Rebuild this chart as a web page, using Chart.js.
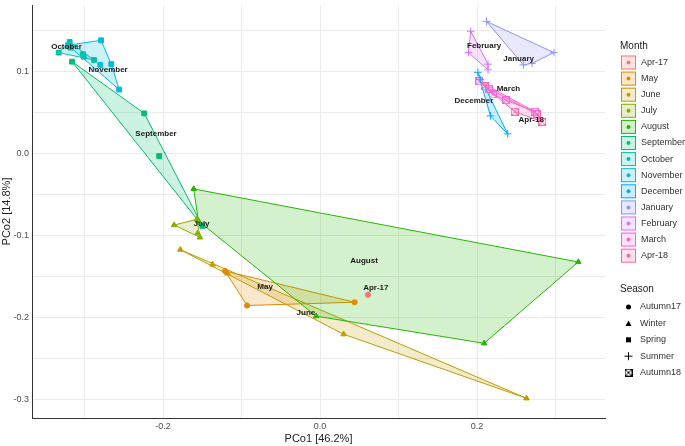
<!DOCTYPE html>
<html>
<head>
<meta charset="UTF-8">
<title>PCoA by month</title>
<script src="https://cdn.jsdelivr.net/npm/chart.js"></script>
<style>
  html, body { margin: 0; padding: 0; background: #fff; }
  #wrap { position: relative; width: 685px; height: 446px; }
</style>
</head>
<body>
<div id="wrap"><canvas id="pcoa-chart" width="685" height="446"></canvas></div>
<script>
// months, in legend order
const months = ['Apr-17', 'May', 'June', 'July', 'August', 'September', 'October',
                'November', 'December', 'January', 'February', 'March', 'Apr-18'];
const monthColors = ['#F8766D', '#E18A00', '#BE9C00', '#8CAB00', '#24B700', '#00BE70', '#00C1AB',
                     '#00BBDA', '#00ACFC', '#8B93FF', '#D575FE', '#F962DD', '#FF65AC'];
const seasons = ['Autumn17', 'Winter', 'Spring', 'Summer', 'Autumn18'];
const monthSeason = [0, 0, 1, 1, 1, 2, 2, 2, 3, 3, 3, 4, 4];

// PCo1 / PCo2 scores, one list per month
const pco1 = [
  [0.061],
  [-0.121, -0.093, 0.044],
  [-0.178, -0.137, -0.118, 0.030, 0.263],
  [-0.186, -0.157, -0.156, -0.153],
  [-0.161, -0.155, -0.005, 0.209, 0.329],
  [-0.316, -0.224, -0.205, -0.150],
  [-0.333, -0.319, -0.318, -0.302, -0.288],
  [-0.321, -0.279, -0.266, -0.256, -0.280, -0.301],
  [0.201, 0.204, 0.217, 0.239],
  [0.212, 0.298, 0.259, 0.270],
  [0.192, 0.189, 0.214, 0.214],
  [0.203, 0.215, 0.220, 0.237, 0.274],
  [0.210, 0.248, 0.276, 0.283]
];
const pco2 = [
  [-0.172],
  [-0.143, -0.185, -0.181],
  [-0.117, -0.135, -0.146, -0.220, -0.298],
  [-0.087, -0.080, -0.097, -0.102],
  [-0.043, -0.082, -0.198, -0.231, -0.132],
  [0.112, 0.049, -0.003, -0.088],
  [0.123, 0.136, 0.129, 0.121, 0.114],
  [0.132, 0.138, 0.109, 0.078, 0.108, 0.118],
  [0.099, 0.090, 0.046, 0.024],
  [0.161, 0.123, 0.108, 0.110],
  [0.149, 0.123, 0.109, 0.102],
  [0.088, 0.079, 0.072, 0.065, 0.051],
  [0.082, 0.051, 0.048, 0.039]
];

// where each month name is written
const labelX = [0.071, -0.070, -0.018, -0.151, 0.056, -0.209, -0.323, -0.270, 0.196, 0.253, 0.209, 0.240, 0.269];
const labelY = [-0.164, -0.162, -0.194, -0.085, -0.130, 0.024, 0.130, 0.102, 0.064, 0.115, 0.131, 0.0785, 0.0415];

function withAlpha(hex, a) {
  const n = parseInt(hex.slice(1), 16);
  return `rgba(${(n >> 16) & 255}, ${(n >> 8) & 255}, ${n & 255}, ${a})`;
}

// square with an X inside (R shape 7)
function boxCross(color) {
  const c = document.createElement('canvas');
  c.width = 8; c.height = 8;
  const g = c.getContext('2d');
  g.strokeStyle = color;
  g.lineWidth = 1;
  g.strokeRect(0.5, 0.5, 7, 7);
  g.beginPath();
  g.moveTo(0.5, 0.5); g.lineTo(7.5, 7.5);
  g.moveTo(7.5, 0.5); g.lineTo(0.5, 7.5);
  g.stroke();
  return c;
}

function seasonStyle(s, color) {
  if (s === 0) return { pointStyle: 'circle', radius: 2.6 };
  if (s === 1) return { pointStyle: 'triangle', radius: 3.2 };
  if (s === 2) return { pointStyle: 'rect', radius: 3.4 };
  if (s === 3) return { pointStyle: 'cross', radius: 3.8 };
  return { pointStyle: boxCross(color), radius: 4 };
}

// convex hull (monotone chain)
function convexHull(pts) {
  const p = pts.slice().sort((a, b) => a[0] - b[0] || a[1] - b[1]);
  if (p.length < 3) return p;
  const cross = (o, a, b) => (a[0] - o[0]) * (b[1] - o[1]) - (a[1] - o[1]) * (b[0] - o[0]);
  const lower = [], upper = [];
  for (const q of p) {
    while (lower.length >= 2 && cross(lower[lower.length - 2], lower[lower.length - 1], q) <= 0) lower.pop();
    lower.push(q);
  }
  for (let i = p.length - 1; i >= 0; i--) {
    const q = p[i];
    while (upper.length >= 2 && cross(upper[upper.length - 2], upper[upper.length - 1], q) <= 0) upper.pop();
    upper.push(q);
  }
  upper.pop(); lower.pop();
  return lower.concat(upper);
}

const FONT = '"Liberation Sans", Arial, sans-serif';

const hullPlugin = {
  id: 'hulls',
  beforeDatasetsDraw(chart) {
    const { ctx, chartArea, scales: { x, y } } = chart;
    ctx.save();
    ctx.beginPath();
    ctx.rect(chartArea.left, chartArea.top, chartArea.right - chartArea.left, chartArea.bottom - chartArea.top);
    ctx.clip();
    months.forEach((m, i) => {
      const hull = convexHull(pco1[i].map((v, j) => [v, pco2[i][j]]));
      if (hull.length < 3) return;
      ctx.beginPath();
      hull.forEach(([a, b], k) => {
        const px = x.getPixelForValue(a), py = y.getPixelForValue(b);
        if (k) ctx.lineTo(px, py); else ctx.moveTo(px, py);
      });
      ctx.closePath();
      ctx.fillStyle = withAlpha(monthColors[i], 0.2);
      ctx.fill();
      ctx.strokeStyle = monthColors[i];
      ctx.lineWidth = 1;
      ctx.stroke();
    });
    ctx.restore();
  },
  afterDatasetsDraw(chart) {
    const { ctx, scales: { x, y } } = chart;
    ctx.save();
    ctx.font = 'bold 8px ' + FONT;
    ctx.fillStyle = '#1a1a1a';
    ctx.textAlign = 'center';
    ctx.textBaseline = 'middle';
    months.forEach((m, i) => {
      ctx.fillText(m, x.getPixelForValue(labelX[i]), y.getPixelForValue(labelY[i]));
    });
    ctx.restore();
  },
  afterDraw(chart) {
    const ctx = chart.ctx;
    ctx.save();
    ctx.textAlign = 'left';
    ctx.textBaseline = 'middle';
    // Month legend
    ctx.font = '10px ' + FONT;
    ctx.fillStyle = '#222';
    ctx.fillText('Month', 620, 46);
    ctx.font = '9px ' + FONT;
    months.forEach((m, i) => {
      const cy = 62.5 + i * 16.1;
      ctx.fillStyle = withAlpha(monthColors[i], 0.2);
      ctx.fillRect(621, cy - 7, 15, 14);
      ctx.strokeStyle = monthColors[i];
      ctx.lineWidth = 1;
      ctx.strokeRect(621.5, cy - 6.5, 14, 13);
      ctx.fillStyle = monthColors[i];
      ctx.beginPath();
      ctx.arc(628.5, cy, 2, 0, Math.PI * 2);
      ctx.fill();
      ctx.fillStyle = '#333';
      ctx.fillText(m, 641, cy);
    });
    // Season legend
    ctx.font = '10px ' + FONT;
    ctx.fillStyle = '#222';
    ctx.fillText('Season', 620, 289);
    ctx.font = '9px ' + FONT;
    seasons.forEach((s, k) => {
      const cy = 307 + k * 16.4, cx = 628.5;
      ctx.fillStyle = '#000';
      ctx.strokeStyle = '#000';
      ctx.lineWidth = 1;
      ctx.beginPath();
      if (k === 0) {
        ctx.arc(cx, cy, 2.5, 0, Math.PI * 2); ctx.fill();
      } else if (k === 1) {
        ctx.moveTo(cx, cy - 3); ctx.lineTo(cx + 3, cy + 2.5); ctx.lineTo(cx - 3, cy + 2.5); ctx.closePath(); ctx.fill();
      } else if (k === 2) {
        ctx.fillRect(cx - 2.5, cy - 2.5, 5, 5);
      } else if (k === 3) {
        ctx.moveTo(cx - 4, cy); ctx.lineTo(cx + 4, cy);
        ctx.moveTo(cx, cy - 4); ctx.lineTo(cx, cy + 4); ctx.stroke();
      } else {
        ctx.drawImage(boxCross('#000'), cx - 4, cy - 4);
      }
      ctx.fillStyle = '#333';
      ctx.fillText(s, 640, cy);
    });
    ctx.restore();
  }
};

const datasets = months.map((m, i) => {
  const st = seasonStyle(monthSeason[i], monthColors[i]);
  return {
    label: m,
    data: pco1[i].map((v, j) => ({ x: v, y: pco2[i][j] })),
    pointStyle: st.pointStyle,
    pointRadius: st.radius,
    backgroundColor: monthColors[i],
    borderColor: monthColors[i],
    borderWidth: 1
  };
});

// show a label only on multiples of `step`
const labelEvery = step => v => {
  const t = v / step;
  return Math.abs(t - Math.round(t)) < 1e-6 ? (Math.round(t) * step).toFixed(1) : '';
};

const ctx = document.getElementById('pcoa-chart').getContext('2d');
new Chart(ctx, {
  type: 'scatter',
  data: { datasets: datasets },
  plugins: [hullPlugin],
  options: {
    responsive: false,
    animation: false,
    layout: { padding: { left: 0, right: 80, top: 3, bottom: 0 } },
    plugins: { legend: { display: false }, tooltip: { enabled: false } },
    scales: {
      x: {
        type: 'linear',
        min: -0.367,
        max: 0.363,
        ticks: {
          stepSize: 0.1, includeBounds: false, autoSkip: false, maxRotation: 0,
          callback: labelEvery(0.2), color: '#4d4d4d', font: { family: FONT, size: 9 }, padding: 3
        },
        grid: { color: '#ebebeb', drawTicks: false },
        border: { display: true, color: '#333', width: 1 },
        title: { display: true, text: 'PCo1 [46.2%]', color: '#222', font: { family: FONT, size: 11 }, padding: { top: 1, bottom: 0 } },
        afterFit(s) { s.height = 28; s.paddingLeft = 0; s.paddingRight = 0; }
      },
      y: {
        type: 'linear',
        min: -0.322,
        max: 0.181,
        ticks: {
          stepSize: 0.05, includeBounds: false, autoSkip: false,
          callback: labelEvery(0.1), color: '#4d4d4d', font: { family: FONT, size: 9 }, padding: 3
        },
        grid: { color: '#ebebeb', drawTicks: false },
        border: { display: true, color: '#333', width: 1 },
        title: { display: true, text: 'PCo2 [14.8%]', color: '#222', font: { family: FONT, size: 11 }, padding: { top: 0, bottom: 0 } },
        afterFit(s) { s.width = 32; s.paddingTop = 0; s.paddingBottom = 0; }
      }
    }
  }
});
</script>
</body>
</html>
